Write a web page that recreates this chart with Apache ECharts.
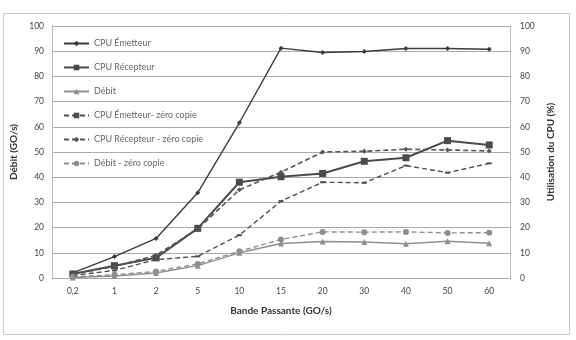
<!DOCTYPE html>
<html>
<head>
<meta charset="utf-8">
<script src="https://cdn.jsdelivr.net/npm/echarts@6/dist/echarts.min.js"></script>
<style>
  html, body { margin: 0; padding: 0; background: #fff; }
  #chart { width: 576px; height: 340px; }
</style>
</head>
<body>
<div id="chart"></div>
<script>
// bande passante (GO/s)
const categories = ['0,2', '1', '2', '5', '10', '15', '20', '30', '40', '50', '60']

const cpuEmetteur = [2, 8.5, 15.7, 33.8, 61.6, 91.2, 89.5, 89.9, 91.1, 91.1, 90.8]
const cpuRecepteur = [1.6, 4.9, 8, 19.7, 38, 40.2, 41.5, 46.3, 47.7, 54.5, 52.8]
const debit = [0.2, 0.8, 2, 4.9, 10, 13.7, 14.5, 14.3, 13.6, 14.6, 13.8]
const cpuEmetteurZc = [1, 3, 7.3, 8.6, 17, 30.5, 38, 37.8, 44.6, 41.8, 45.5]
const cpuRecepteurZc = [1.5, 4.6, 9, 19.5, 35, 42, 50, 50.3, 51.1, 50.8, 50.4]
const debitZc = [0.5, 1.3, 2.6, 5.6, 10.6, 15.3, 18.3, 18.2, 18.3, 17.9, 18]

const yTicks = { min: 0, max: 100, interval: 10 }

const font = 'Lato, "Open Sans", sans-serif'

function serie(name, data, opts) {
  return {
    name: name,
    type: 'line',
    data: data,
    yAxisIndex: 0,
    symbol: opts.symbol,
    symbolSize: opts.size,
    showAllSymbol: true,
    lineStyle: { color: opts.color, width: opts.width, type: opts.dash ? [5, 3] : 'solid' },
    itemStyle: { color: opts.color },
    animation: false
  }
}

const chart = echarts.init(document.getElementById('chart'))
chart.setOption({
  textStyle: { fontFamily: font },
  graphic: [{
    type: 'rect',
    shape: { x: 3.5, y: 13.5, width: 566, height: 321 },
    style: { fill: 'none', stroke: '#c8c8c8', lineWidth: 1 },
    silent: true
  }],
  legend: {
    orient: 'vertical',
    left: 58,
    top: 34,
    itemWidth: 25,
    itemHeight: 7,
    itemGap: 15,
    textStyle: { fontSize: 9, color: '#666', fontFamily: font },
    data: ['CPU Émetteur', 'CPU Récepteur', 'Débit',
      'CPU Émetteur- zéro copie', 'CPU Récepteur - zéro copie', 'Débit - zéro copie']
  },
  grid: { left: 52, right: 66, top: 26, bottom: 62 },
  xAxis: {
    type: 'category',
    data: categories,
    boundaryGap: true,
    name: 'Bande Passante (GO/s)',
    nameLocation: 'middle',
    nameGap: 28,
    nameTextStyle: { fontSize: 10, fontWeight: 'bold', color: '#333' },
    axisLine: { lineStyle: { color: '#aaa' } },
    axisTick: { show: false },
    axisLabel: { fontSize: 8.5, color: '#444', margin: 9 }
  },
  yAxis: [
    {
      type: 'value',
      min: yTicks.min,
      max: yTicks.max,
      interval: yTicks.interval,
      name: 'Débit (GO/s)',
      nameLocation: 'middle',
      nameGap: 29,
      nameRotate: 90,
      nameTextStyle: { fontSize: 10, fontWeight: 'bold', color: '#333' },
      axisLine: { show: true, lineStyle: { color: '#bbb' } },
      axisTick: { show: false },
      axisLabel: { fontSize: 8.5, color: '#444', margin: 8 },
      splitLine: { lineStyle: { color: '#aaa' } }
    },
    {
      type: 'value',
      position: 'right',
      min: yTicks.min,
      max: yTicks.max,
      interval: yTicks.interval,
      name: 'Utilisation du CPU (%)',
      nameLocation: 'middle',
      nameGap: 33,
      nameRotate: 90,
      nameTextStyle: { fontSize: 10, fontWeight: 'bold', color: '#333' },
      axisLine: { show: true, lineStyle: { color: '#bbb' } },
      axisTick: { show: false },
      axisLabel: { fontSize: 8.5, color: '#444', margin: 10 },
      splitLine: { show: false }
    }
  ],
  series: [
    serie('CPU Émetteur', cpuEmetteur, { symbol: 'diamond', size: 5, color: '#3c3c3c', width: 1.4 }),
    serie('CPU Récepteur', cpuRecepteur, { symbol: 'rect', size: 7, color: '#4a4a4a', width: 2 }),
    serie('Débit', debit, { symbol: 'triangle', size: 6, color: '#8e8e8e', width: 1.4 }),
    serie('CPU Émetteur- zéro copie', cpuEmetteurZc, { symbol: 'rect', size: [5, 2], color: '#4e4e4e', width: 1.4, dash: true }),
    serie('CPU Récepteur - zéro copie', cpuRecepteurZc, { symbol: 'diamond', size: 5, color: '#555', width: 1.6, dash: true }),
    serie('Débit - zéro copie', debitZc, { symbol: 'circle', size: 6, color: '#8e8e8e', width: 1.4, dash: true })
  ]
})
</script>
</body>
</html>
